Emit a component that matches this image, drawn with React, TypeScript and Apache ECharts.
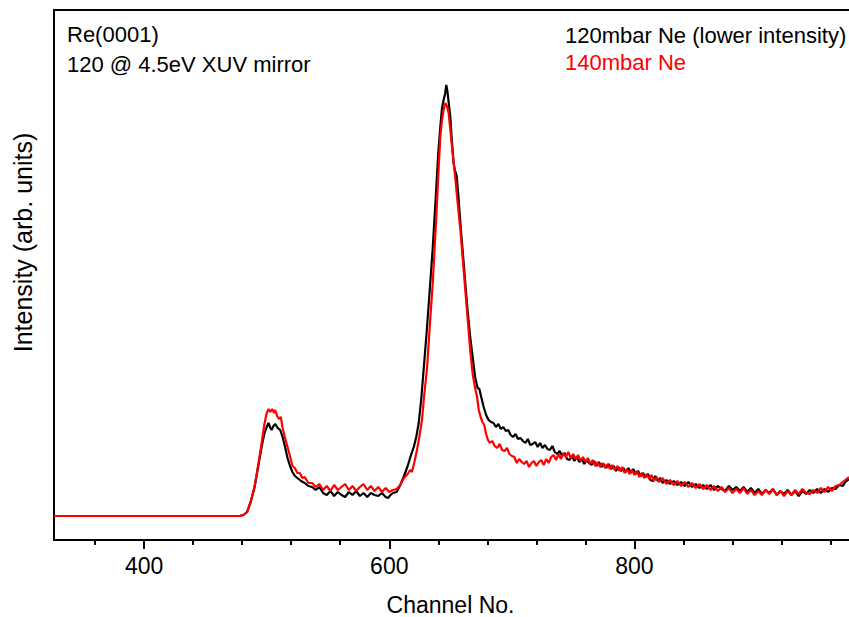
import React, { useEffect, useRef } from "react";
import * as echarts from "echarts";

const xMin = 326.5;
const xMax = 975;
const yMin = 0;
const yMax = 530;

const majorTicks = [400, 600, 800];
const minorTicks = [360, 440, 480, 520, 560, 640, 680, 720, 760, 840, 880, 920, 960];

const seriesNames = ["120mbar Ne (lower intensity)", "140mbar Ne"];
const annotationLines = ["Re(0001)", "120 @ 4.5eV XUV mirror"];
const xAxisName = "Channel No.";
const yAxisName = "Intensity (arb. units)";

const black120: [number, number][] = [
  [326.5, 24], [478, 24], [481, 25], [484, 28], [487, 38], [490, 52], [492, 66], [494, 80], [496, 94], [498, 106],
  [500, 113], [501.5, 117], [503, 112], [504, 110], [505.5, 114], [507, 116], [509, 112], [511, 110], [513, 103],
  [515, 93], [517, 82], [519, 74], [521, 68], [523, 64], [525, 62], [528, 59], [531, 57], [534, 54], [537, 53],
  [540, 50], [543, 53], [546, 47], [549, 45], [552, 49], [555, 44], [558, 48], [561, 45], [564, 43], [567, 48],
  [570, 45], [573, 49], [576, 44], [579, 47], [582, 43], [585, 47], [588, 45], [591, 44], [594, 47], [597, 43],
  [599, 42], [601, 45], [603, 47], [606, 48], [609, 55], [612, 64], [615, 74], [618, 86], [620, 93], [622, 103],
  [624, 117], [626, 140], [628, 170], [630.5, 208], [633, 250], [635.5, 293], [638, 345], [640, 388], [641.6, 413],
  [643, 432], [644.3, 440], [645.5, 446], [646.5, 455], [647.5, 448], [648.5, 437], [649.8, 423], [651, 400],
  [652.5, 377], [653.5, 370], [655, 364], [656.5, 342], [658, 317], [660, 287], [662, 257], [664, 228], [666, 203],
  [668, 183], [670, 163], [672, 152], [673.5, 151], [675, 143], [677, 133], [679, 125], [681, 120], [683, 118],
  [685, 117], [687, 113], [689, 116], [691, 111], [693, 113], [695, 109], [697, 110], [699, 105], [701, 103],
  [703, 106], [705, 101], [707, 102], [709, 99], [711, 97], [713, 101], [715, 95], [717, 96], [719, 98], [721, 93],
  [723, 97], [725, 92], [727, 95], [729, 91], [731, 90], [733, 94], [735, 88], [737, 86], [739, 89], [741, 84],
  [743, 87], [745, 81], [747, 80], [749, 84], [751, 79], [753, 83], [755, 78], [757, 81], [759, 76], [761, 80],
  [763, 77], [765, 75], [767, 79], [769, 74], [771, 78], [773, 73], [775, 76], [777, 72], [779, 76], [781, 71],
  [783, 74], [785, 69], [787, 73], [789, 69], [791, 72], [793, 68], [795, 72], [797, 67], [799, 71], [801, 66],
  [803, 69], [805, 64], [807, 67], [809, 63], [811, 66], [813, 60], [815, 59], [817, 64], [819, 59], [821, 62],
  [823, 57], [826, 60], [829, 56], [832, 59], [835, 55], [838, 58], [841, 54], [844, 58], [847, 53], [850, 56],
  [853, 52], [856, 55], [859, 51], [862, 55], [865, 50], [868, 54], [871, 51], [874, 49], [877, 54], [880, 50],
  [883, 53], [886, 49], [889, 53], [892, 48], [895, 52], [898, 47], [901, 51], [904, 46], [907, 50], [910, 47],
  [913, 51], [916, 45], [919, 49], [922, 46], [925, 50], [928, 45], [931, 49], [934, 44], [937, 49], [940, 46],
  [943, 50], [946, 47], [949, 51], [952, 47], [955, 51], [958, 48], [961, 52], [964, 51], [967, 55], [970, 54],
  [972, 58], [975, 61],
];

const red140: [number, number][] = [
  [326.5, 24], [478, 24], [481, 25], [484, 28], [487, 39], [490, 53], [492, 67], [494, 82], [496, 98], [498, 115],
  [500, 127], [501.5, 131], [503, 128], [504.5, 131], [506, 127], [507, 130], [508.5, 124], [510, 121], [511.5, 123],
  [513, 112], [515, 102], [517, 93], [519, 84], [521, 74], [523, 72], [525, 67], [527, 67], [529, 62], [531, 63],
  [534, 57], [537, 57], [540, 53], [543, 56], [546, 50], [549, 54], [552, 49], [555, 55], [558, 50], [561, 53],
  [564, 56], [567, 50], [570, 54], [573, 49], [576, 53], [579, 56], [582, 50], [585, 54], [588, 49], [591, 53],
  [594, 48], [597, 52], [600, 48], [603, 50], [606, 51], [609, 55], [612, 62], [615, 66], [617, 70], [618.5, 68],
  [620.5, 78], [622.6, 90], [624.5, 103], [626.7, 120], [628.5, 145], [630.8, 172], [633, 213], [635.5, 258],
  [638, 315], [640, 365], [641.6, 403], [643, 420], [644.3, 430], [645.7, 437], [647, 434], [648.4, 427],
  [649.8, 410], [651, 395], [652.5, 377], [654, 360], [655.3, 343], [657, 322], [658, 310], [660, 280], [662, 250],
  [664, 220], [666, 190], [668, 166], [670, 152], [671.6, 143], [673, 130], [674.5, 123], [676, 118], [677.5, 115],
  [679, 106], [680.5, 100], [682, 97], [684, 99], [686, 94], [688, 92], [690, 96], [692, 90], [694, 89], [696, 92],
  [698, 86], [700, 84], [702, 83], [704, 77], [706, 81], [708, 78], [710, 76], [712, 79], [714, 73], [716, 77],
  [718, 79], [720, 74], [722, 78], [724, 80], [726, 75], [728, 81], [730, 77], [732, 83], [734, 85], [736, 80],
  [738, 86], [740, 81], [742, 87], [744, 83], [746, 88], [748, 82], [750, 86], [752, 81], [754, 85], [756, 79],
  [758, 83], [760, 78], [762, 82], [764, 76], [766, 80], [768, 74], [770, 78], [772, 73], [774, 77], [776, 72],
  [778, 76], [780, 71], [782, 75], [784, 70], [786, 74], [788, 69], [790, 73], [792, 67], [794, 71], [796, 66],
  [798, 70], [800, 65], [802, 69], [804, 63], [806, 67], [808, 62], [810, 66], [812, 61], [814, 65], [816, 59],
  [818, 63], [820, 58], [823, 62], [826, 56], [829, 60], [832, 55], [835, 59], [838, 54], [841, 58], [844, 53],
  [847, 57], [850, 52], [853, 56], [856, 51], [859, 55], [862, 50], [865, 54], [868, 49], [871, 53], [874, 48],
  [877, 52], [880, 47], [883, 51], [886, 47], [889, 52], [892, 46], [895, 50], [898, 45], [901, 49], [904, 45],
  [907, 50], [910, 46], [913, 51], [916, 45], [919, 49], [922, 44], [925, 49], [928, 45], [931, 50], [934, 46],
  [937, 51], [940, 47], [943, 46], [946, 50], [949, 47], [952, 52], [955, 48], [958, 53], [961, 49], [964, 54],
  [967, 55], [970, 58], [972, 60], [975, 63],
];

const FONT = "'Liberation Sans', Arial, Helvetica, sans-serif";

export default function App() {
  const ref = useRef<HTMLDivElement>(null);

  useEffect(() => {
    if (!ref.current) return;
    const chart = echarts.init(ref.current, undefined, { renderer: "svg" });
    const axisLineStyle = { color: "#000", width: 2 };
    chart.setOption({
      animation: false,
      backgroundColor: "#fff",
      grid: { left: 54, right: 0, top: 10, bottom: 77, containLabel: false },
      xAxis: [
        {
          type: "value",
          position: "bottom",
          min: xMin,
          max: xMax,
          axisLine: { show: true, onZero: false, lineStyle: axisLineStyle },
          axisTick: { show: true, length: 9, lineStyle: axisLineStyle, customValues: majorTicks },
          axisLabel: {
            show: true,
            customValues: majorTicks,
            fontSize: 23,
            fontFamily: FONT,
            color: "#000",
            margin: 14,
          },
          splitLine: { show: false },
        },
        {
          type: "value",
          position: "bottom",
          min: xMin,
          max: xMax,
          axisLine: { show: false, onZero: false },
          axisTick: { show: true, length: 5, lineStyle: axisLineStyle, customValues: minorTicks },
          axisLabel: { show: false },
          splitLine: { show: false },
        },
        {
          type: "value",
          position: "top",
          min: xMin,
          max: xMax,
          axisLine: { show: true, onZero: false, lineStyle: axisLineStyle },
          axisTick: { show: false },
          axisLabel: { show: false },
          splitLine: { show: false },
        },
      ],
      yAxis: {
        type: "value",
        min: yMin,
        max: yMax,
        axisLine: { show: true, onZero: false, lineStyle: axisLineStyle },
        axisTick: { show: false },
        axisLabel: { show: false },
        splitLine: { show: false },
      },
      series: [
        {
          name: seriesNames[0],
          type: "line",
          xAxisIndex: 0,
          data: black120,
          showSymbol: false,
          symbol: "none",
          lineStyle: { color: "#000000", width: 2.2 },
          itemStyle: { color: "#000000" },
          z: 2,
        },
        {
          name: seriesNames[1],
          type: "line",
          xAxisIndex: 0,
          data: red140,
          showSymbol: false,
          symbol: "none",
          lineStyle: { color: "#ff0000", width: 2.2 },
          itemStyle: { color: "#ff0000" },
          z: 3,
        },
      ],
      graphic: [
        {
          type: "text",
          left: 67,
          top: 23,
          style: { text: annotationLines[0], font: `22px ${FONT}`, fill: "#000" },
        },
        {
          type: "text",
          left: 67,
          top: 53,
          style: { text: annotationLines[1], font: `22px ${FONT}`, fill: "#000" },
        },
        {
          type: "text",
          left: 565,
          top: 24,
          style: { text: seriesNames[0], font: `22px ${FONT}`, fill: "#000" },
        },
        {
          type: "text",
          left: 565,
          top: 51,
          style: { text: seriesNames[1], font: `22px ${FONT}`, fill: "#ff0000" },
        },
        {
          type: "text",
          x: 450.5,
          y: 604.5,
          style: {
            text: xAxisName,
            font: `23px ${FONT}`,
            fill: "#000",
            align: "center",
            verticalAlign: "middle",
          },
        },
        {
          type: "text",
          x: 22.5,
          y: 242.5,
          rotation: Math.PI / 2,
          style: {
            text: yAxisName,
            font: `25px ${FONT}`,
            fill: "#000",
            align: "center",
            verticalAlign: "middle",
          },
        },
      ],
    });
    return () => chart.dispose();
  }, []);

  return (
    <div
      ref={ref}
      style={{ position: "fixed", left: 0, top: 0, width: 849, height: 617, background: "#fff" }}
    />
  );
}
